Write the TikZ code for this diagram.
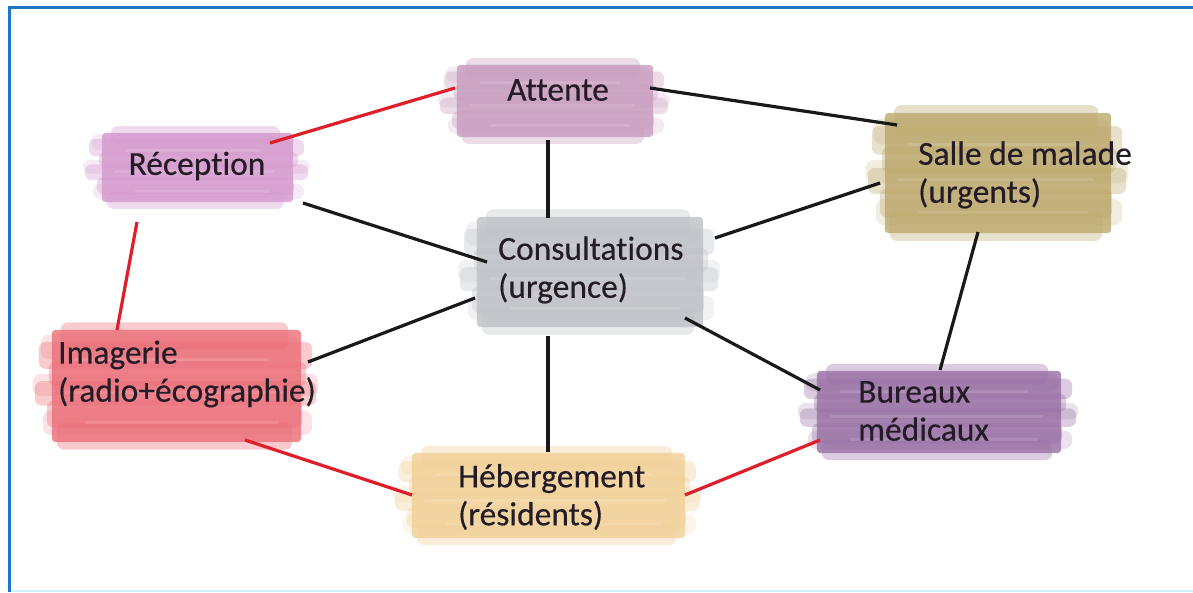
\documentclass[tikz,border=0pt]{standalone}
\usepackage{fontspec}
\setmainfont{Carlito}[Ligatures=NoCommon]
\newfontfamily\lblfont{Carlito}[Ligatures=NoCommon, FakeBold=0.35]
\usetikzlibrary{calc}
\definecolor{frameblue}{RGB}{30,118,196}
\definecolor{framelight}{RGB}{205,240,250}
\definecolor{cAtt}{RGB}{200,155,190}
\definecolor{cRec}{RGB}{212,152,205}
\definecolor{cSal}{RGB}{188,168,108}
\definecolor{cCon}{RGB}{190,193,198}
\definecolor{cImg}{RGB}{236,110,120}
\definecolor{cBur}{RGB}{152,112,165}
\definecolor{cHeb}{RGB}{242,208,150}
\definecolor{lred}{RGB}{222,30,40}
\definecolor{ink}{RGB}{35,28,38}
\tikzset{
  box/.style 2 args={rectangle, draw=none, inner sep=0pt, minimum width=#1, minimum height=#2},
  lbl/.style={font=\lblfont\fontsize{33.5}{38}\selectfont, text=ink, align=left, inner sep=0pt},
  blk/.style={draw=black!90, line width=3.2pt},
  rln/.style={draw=lred, line width=3.2pt}
}
\newcommand\brushpaint[2]{%
  \fill[#2, opacity=0.8, rounded corners=4pt] ([shift={(7,5)}]#1.north west) rectangle ([shift={(-7,-5)}]#1.south east);
  \foreach \a/\b/\l/\r in {-0.02/0.20/16/-20, 0.14/0.36/-6/4, 0.30/0.50/4/-2, 0.46/0.66/-10/8, 0.62/0.84/2/-6, 0.80/1.02/12/-16}{
    \fill[#2, opacity=0.35, rounded corners=7pt] ($(#1.north west)!\a!(#1.south west)+(\l,0)$) rectangle ($(#1.north east)!\b!(#1.south east)+(\r,0)$);
  }
  \foreach \a/\b/\l/\r in {0.08/0.28/-4/-10, 0.40/0.58/-12/10, 0.70/0.90/-2/4}{
    \fill[#2, opacity=0.2, rounded corners=8pt] ($(#1.north west)!\a!(#1.south west)+(\l,0)$) rectangle ($(#1.north east)!\b!(#1.south east)+(\r,0)$);
  }
  \foreach \a/\l/\r in {0.28/30/-40, 0.55/20/-25, 0.8/40/-30}{
    \fill[white, opacity=0.12] ($(#1.north west)!\a!(#1.south west)+(\l,-1.5)$) rectangle ($(#1.north east)!\a!(#1.south east)+(\r,1.5)$);
  }
}
\begin{document}
\begin{tikzpicture}[x=1pt,y=-1pt]
\useasboundingbox (0,0) rectangle (1193,592);
\fill[white] (0,0) rectangle (1193,592);
% frame
\draw[frameblue, line width=3.5pt] (9.5,592) -- (9.5,7.5) -- (1193,7.5);
\draw[framelight, line width=2pt] (11,590.5) -- (1193,590.5);
% brush areas
\node[box={210pt}{82pt}] (att) at (555,101) {};
\node[box={205pt}{79pt}] (rec) at (197.5,167.5) {};
\node[box={240pt}{130pt}] (sal) at (998,173) {};
\node[box={240pt}{120pt}] (con) at (590,272) {};
\node[box={263pt}{122pt}] (img) at (176.5,386) {};
\node[box={258pt}{92pt}] (bur) at (939,412) {};
\node[box={287pt}{95pt}] (heb) at (548.5,495.5) {};
\brushpaint{att}{cAtt}
\brushpaint{rec}{cRec}
\brushpaint{sal}{cSal}
\brushpaint{con}{cCon}
\brushpaint{img}{cImg}
\brushpaint{bur}{cBur}
\brushpaint{heb}{cHeb}
% labels
\node[lbl] (attT) at (558,90) {Attente};
\node[lbl] (recT) at (197,166) {Réception};
\node[lbl, anchor=west] (salT) at (918,175) {Salle de malade\\(urgents)};
\node[lbl, anchor=west] (conT) at (498,270) {Consultations\\(urgence)};
\node[lbl, anchor=west] (imgT) at (58,374) {Imagerie\\(radio+écographie)};
\node[lbl, anchor=west] (burT) at (858,411) {Bureaux\\médicaux};
\node[lbl, anchor=west] (hebT) at (458,497) {Hébergement\\(résidents)};
% connectors
\draw[rln] ([shift={(72.5,-24.5)}]rec.center) -- ([shift={(-100,-13)}]att.center);
\draw[blk] ([shift={(95,-13)}]att.center) -- ([shift={(-101,-48)}]sal.center);
\draw[blk] ([shift={(-7,39)}]att.center) -- ([shift={(-42,-54)}]con.center);
\draw[blk] ([shift={(105.5,35.5)}]rec.center) -- ([shift={(-103,-10)}]con.center);
\draw[blk] ([shift={(125,-34)}]con.center) -- ([shift={(-118,10)}]sal.center);
\draw[rln] ([shift={(-60.5,54.5)}]rec.center) -- ([shift={(-59.5,-56)}]img.center);
\draw[blk] ([shift={(-20,59)}]sal.center) -- ([shift={(1,-42)}]bur.center);
\draw[blk] ([shift={(131.5,-24)}]img.center) -- ([shift={(-115,26)}]con.center);
\draw[blk] ([shift={(-42,64)}]con.center) -- ([shift={(-0.5,-43.5)}]heb.center);
\draw[blk] ([shift={(95,46)}]con.center) -- ([shift={(-119,-22)}]bur.center);
\draw[rln] ([shift={(68.5,54)}]img.center) -- ([shift={(-136.5,-0.5)}]heb.center);
\draw[rln] ([shift={(136.5,-0.5)}]heb.center) -- ([shift={(-119,28)}]bur.center);
\end{tikzpicture}
\end{document}
